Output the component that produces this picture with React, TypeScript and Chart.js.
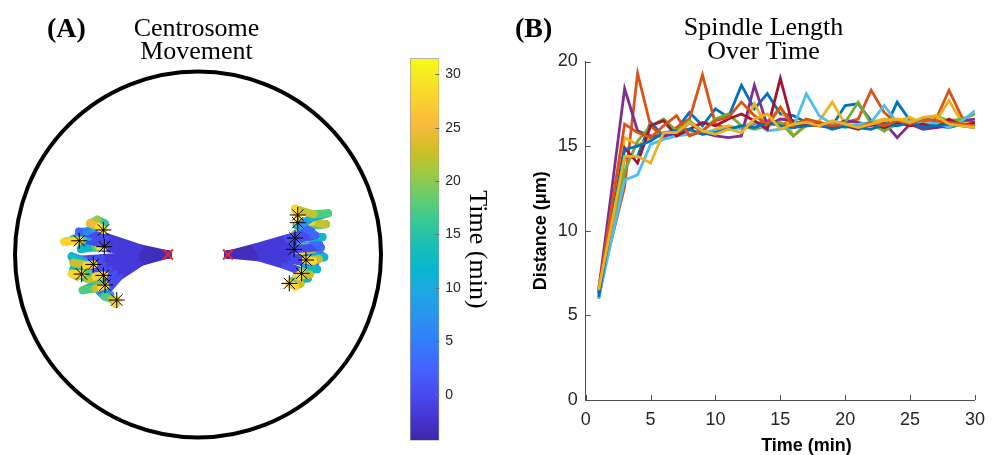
import React, { useEffect, useRef } from "react";
import { Chart, registerables } from "chart.js";
Chart.register(...registerables);

const SERIF = '"Liberation Serif", "Times New Roman", Times, serif';
const SANS = '"Liberation Sans", Arial, Helvetica, sans-serif';

// ---------------- Panel B data: spindle length over time ----------------
const timeMin = [1, 2, 3, 4, 5, 6, 7, 8, 9, 10, 11, 12, 13, 14, 15, 16, 17, 18, 19, 20, 21, 22, 23, 24, 25, 26, 27, 28, 29, 30];
const cell1 = [6.0, 10.2, 14.3, 14.4, 16.4, 15.6, 16.0, 17.0, 16.2, 17.2, 16.7, 18.6, 17.2, 18.1, 16.9, 16.8, 16.4, 16.3, 16.2, 17.4, 17.5, 16.5, 15.9, 17.6, 16.5, 16.3, 16.2, 16.1, 16.3, 16.4];
const cell2 = [6.4, 9.5, 12.6, 19.3, 16.2, 15.5, 16.1, 16.6, 19.2, 16.3, 16.0, 16.2, 16.3, 16.5, 16.3, 16.4, 16.2, 16.3, 16.1, 16.4, 16.6, 18.3, 17.0, 16.3, 16.5, 16.4, 16.6, 18.3, 16.7, 16.3];
const cell3 = [6.6, 11.0, 15.5, 15.1, 15.4, 15.8, 15.6, 15.9, 15.7, 16.0, 16.2, 16.0, 17.5, 16.1, 17.3, 15.6, 16.2, 16.5, 17.6, 16.3, 16.2, 16.4, 16.6, 16.5, 16.7, 16.3, 16.5, 17.7, 16.4, 16.3];
const cell4 = [6.5, 12.4, 18.4, 15.9, 15.6, 15.6, 15.7, 16.4, 15.8, 15.6, 15.5, 15.6, 18.6, 16.2, 16.6, 16.5, 16.2, 16.4, 16.2, 16.5, 16.4, 16.2, 16.4, 15.5, 16.3, 16.0, 16.1, 16.2, 16.5, 16.6];
const cell5 = [6.3, 10.0, 13.5, 15.3, 16.2, 16.6, 15.9, 16.5, 15.9, 16.6, 16.9, 16.2, 16.0, 16.2, 16.4, 15.6, 16.3, 16.2, 16.3, 16.4, 17.6, 16.3, 15.9, 16.3, 16.4, 16.6, 16.8, 16.5, 16.6, 16.9];
const cell6 = [6.0, 9.5, 13.0, 13.3, 15.1, 15.4, 15.6, 15.7, 15.8, 15.9, 16.0, 16.1, 16.4, 15.9, 16.0, 16.1, 18.1, 16.8, 16.3, 16.1, 16.3, 16.4, 17.4, 16.4, 16.5, 16.3, 16.4, 16.1, 16.5, 17.1];
const cell7 = [6.3, 10.6, 14.9, 14.0, 16.2, 16.5, 15.6, 16.0, 16.4, 16.2, 16.6, 16.9, 16.5, 16.0, 19.0, 16.1, 16.3, 16.2, 16.1, 16.2, 16.0, 16.3, 16.1, 16.4, 16.2, 16.3, 16.1, 16.6, 16.2, 16.4];
const cell8 = [6.1, 10.5, 14.8, 15.0, 15.3, 15.8, 15.9, 16.0, 15.7, 15.8, 16.0, 16.2, 16.1, 16.4, 16.2, 16.1, 16.2, 16.3, 16.0, 16.2, 16.1, 16.0, 16.3, 16.2, 16.4, 16.1, 16.2, 16.3, 16.2, 16.1];
const cell9 = [6.5, 11.4, 16.3, 15.8, 15.5, 16.2, 16.8, 15.6, 15.9, 16.5, 16.7, 17.6, 16.8, 16.3, 17.3, 16.2, 16.6, 16.4, 16.2, 16.3, 16.1, 16.4, 16.2, 16.5, 16.3, 16.6, 16.5, 16.4, 16.3, 16.2];
const cell10 = [6.5, 10.4, 14.4, 14.4, 14.0, 15.8, 15.8, 16.4, 15.9, 15.7, 16.0, 15.8, 16.6, 16.9, 16.0, 16.3, 16.4, 16.2, 16.5, 16.3, 16.1, 16.3, 16.5, 16.6, 16.4, 16.7, 16.8, 16.3, 16.2, 16.1];
const spindleSeries = [cell1, cell2, cell3, cell4, cell5, cell6, cell7, cell8, cell9, cell10];
const seriesColors = ["#0072BD", "#D95319", "#EDB120", "#7E2F8E", "#77AC30", "#4DBEEE", "#A2142F", "#0072BD", "#D95319", "#EDB120"];
const timeTicks = [0, 5, 10, 15, 20, 25, 30];
const distanceTicks = [0, 5, 10, 15, 20];

// ---------------- Panel A data: centrosome tracks [time, x, y] ----------------
const cellRadius = 10;
const poleStarts = [[-1.64, 0], [1.64, 0]];
const leftTracks = [
  [[-4, -1.64, 0], [-2.5, -3.2, 0.35], [-1, -5.0, 0.95], [1, -6.5, 1.25], [4, -6.1, 1.25], [8, -5.7, 1.45], [13, -5.1, 1.7], [18, -5.5, 1.9], [23, -5.9, 1.7], [27, -5.4, 1.5], [31, -5.17, 1.34]],
  [[-4, -1.64, 0], [-2.5, -3.3, 0.25], [-1, -5.2, 0.6], [1, -6.6, 0.9], [5, -6.0, 0.95], [10, -6.8, 0.85], [15, -6.3, 0.8], [20, -7.0, 0.75], [25, -7.3, 0.7], [31, -6.49, 0.75]],
  [[-4, -1.64, 0], [-2.5, -3.3, 0.15], [-1, -5.1, 0.35], [1, -6.3, 0.45], [5, -5.7, 0.5], [10, -6.4, 0.3], [15, -5.6, 0.4], [20, -5.0, 0.55], [25, -5.4, 0.45], [31, -5.12, 0.43]],
  [[-4, -1.64, 0], [-2.5, -3.4, -0.05], [-1, -5.3, -0.2], [1, -6.8, -0.3], [5, -6.2, -0.35], [10, -6.9, -0.1], [15, -6.3, -0.5], [20, -6.8, -0.45], [25, -6.1, -0.6], [31, -5.72, -0.54]],
  [[-4, -1.64, 0], [-2.5, -3.4, -0.15], [-1, -5.2, -0.5], [1, -6.7, -0.85], [5, -6.1, -0.9], [10, -6.8, -0.8], [15, -6.0, -1.0], [20, -6.6, -1.2], [25, -6.9, -1.05], [31, -6.36, -1.07]],
  [[-4, -1.64, 0], [-2.5, -3.3, -0.25], [-1, -4.9, -0.75], [1, -6.0, -1.2], [5, -5.5, -1.3], [10, -6.2, -1.25], [15, -5.3, -1.4], [20, -6.0, -1.35], [25, -5.6, -1.2], [31, -5.17, -1.14]],
  [[-4, -1.64, 0], [-2.5, -3.2, -0.35], [-1, -4.6, -1.0], [1, -5.4, -1.9], [5, -5.0, -1.8], [10, -5.8, -1.75], [15, -6.3, -1.95], [20, -5.6, -1.85], [25, -5.3, -1.75], [31, -5.08, -1.67]],
  [[-4, -1.64, 0], [-2.5, -3.1, -0.4], [-1, -4.3, -1.2], [1, -5.0, -2.0], [5, -4.8, -2.2], [10, -5.4, -2.0], [15, -5.1, -2.3], [20, -4.7, -2.45], [25, -4.5, -2.7], [31, -4.44, -2.49]],
];
const rightTracks = [
  [[-4, 1.64, 0], [-2.5, 3.2, 0.4], [-1, 4.9, 0.9], [1, 6.2, 1.25], [5, 5.6, 1.6], [10, 6.2, 2.0], [15, 7.1, 2.25], [20, 6.3, 2.2], [25, 5.3, 2.5], [31, 5.45, 2.16]],
  [[-4, 1.64, 0], [-2.5, 3.3, 0.3], [-1, 5.0, 0.75], [1, 6.4, 1.05], [5, 5.8, 1.3], [10, 5.4, 1.6], [15, 6.2, 1.55], [20, 7.0, 1.65], [25, 6.2, 1.8], [31, 5.45, 1.74]],
  [[-4, 1.64, 0], [-2.5, 3.4, 0.1], [-1, 5.3, 0.3], [1, 6.7, 0.4], [5, 6.1, 0.9], [10, 6.8, 0.95], [15, 5.8, 1.0], [20, 5.3, 1.1], [25, 5.9, 0.9], [31, 5.3, 0.9]],
  [[-4, 1.64, 0], [-2.5, 3.4, 0.2], [-1, 5.2, 0.45], [1, 6.6, 0.6], [5, 6.0, 0.5], [10, 6.7, 0.35], [15, 5.6, 0.45], [20, 6.3, 0.3], [25, 5.7, 0.2], [31, 5.25, 0.28]],
  [[-4, 1.64, 0], [-2.5, 3.4, 0.0], [-1, 5.2, -0.1], [1, 6.8, -0.1], [5, 6.2, -0.05], [10, 6.9, -0.15], [15, 6.0, -0.3], [20, 6.6, -0.25], [25, 6.3, -0.35], [31, 5.9, -0.3]],
  [[-4, 1.64, 0], [-2.5, 3.4, -0.05], [-1, 5.1, -0.3], [1, 6.4, -0.5], [5, 5.9, -0.6], [10, 6.5, -0.8], [15, 5.7, -0.9], [20, 6.1, -1.1], [25, 5.4, -1.2], [31, 5.66, -1.03]],
  [[-4, 1.64, 0], [-2.5, 3.3, -0.15], [-1, 4.8, -0.6], [1, 5.8, -1.0], [5, 5.4, -1.2], [10, 6.0, -1.3], [15, 5.2, -1.45], [20, 5.6, -1.6], [25, 5.3, -1.75], [31, 4.99, -1.58]],
];
const colorbarMin = -4.3;
const colorbarMax = 31.5;
const colorbarTicks = [0, 5, 10, 15, 20, 25, 30];

// parula colormap samples (style, not data)
const parula = [
  [0.2422, 0.1504, 0.6603], [0.2706, 0.2147, 0.8364], [0.2813, 0.3006, 0.9414], [0.2699, 0.3892, 0.9906],
  [0.1963, 0.4847, 0.9892], [0.1687, 0.5703, 0.9359], [0.1248, 0.6459, 0.8883], [0.0297, 0.7082, 0.8163],
  [0.0964, 0.75, 0.712], [0.2161, 0.7843, 0.5923], [0.3909, 0.8029, 0.4354], [0.6174, 0.7876, 0.2612],
  [0.8203, 0.7498, 0.1535], [0.9728, 0.7298, 0.2394], [0.9892, 0.8136, 0.1885], [0.9597, 0.9135, 0.1423],
  [0.9769, 0.9839, 0.0805],
];
const parulaPos = parula.map((_, k) => (k === parula.length - 1 ? 1 : (k * 4) / 63));
const rgb = (c: number[]) => `rgb(${Math.round(c[0] * 255)},${Math.round(c[1] * 255)},${Math.round(c[2] * 255)})`;
function timeColor(t: number): string {
  const f = Math.min(1, Math.max(0, (t - colorbarMin) / (colorbarMax - colorbarMin)));
  for (let k = 1; k < parula.length; k++) {
    if (f <= parulaPos[k]) {
      const a = (f - parulaPos[k - 1]) / (parulaPos[k] - parulaPos[k - 1]);
      const c0 = parula[k - 1], c1 = parula[k];
      return rgb([0, 1, 2].map((i) => c0[i] + (c1[i] - c0[i]) * a));
    }
  }
  return rgb(parula[parula.length - 1]);
}

type TextItem = { text: string; x: number; y: number; font: string; align: CanvasTextAlign; color?: string };
function textPlugin(id: string, items: TextItem[]) {
  return {
    id,
    afterDraw(chart: any) {
      const ctx = chart.ctx;
      ctx.save();
      for (const it of items) {
        ctx.font = it.font;
        ctx.fillStyle = it.color || "#000";
        ctx.textAlign = it.align;
        ctx.textBaseline = "alphabetic";
        ctx.fillText(it.text, it.x, it.y);
      }
      ctx.restore();
    },
  };
}

const cellOutline = {
  id: "cellOutline",
  beforeDatasetsDraw(chart: any) {
    const { ctx, scales } = chart;
    const cx = scales.x.getPixelForValue(0);
    const cy = scales.y.getPixelForValue(0);
    const rx = Math.abs(scales.x.getPixelForValue(cellRadius) - cx);
    const ry = Math.abs(scales.y.getPixelForValue(cellRadius) - cy);
    ctx.save();
    ctx.lineWidth = 4;
    ctx.strokeStyle = "#000";
    ctx.beginPath();
    ctx.ellipse(cx, cy, rx, ry, 0, 0, Math.PI * 2);
    ctx.stroke();
    ctx.restore();
  },
};

function trackDataset(track: number[][], i: number) {
  const pts = track.map(([t, x, y]) => ({ x, y, t }));
  return {
    data: pts,
    showLine: true,
    borderWidth: 8,
    pointRadius: 0,
    borderCapStyle: "round",
    borderJoinStyle: "round",
    borderColor: timeColor(pts[0].t),
    segment: {
      borderColor: (c: any) => timeColor((pts[c.p0DataIndex].t + pts[c.p1DataIndex].t) / 2),
    },
    order: 2 + i,
  };
}

export default function App() {
  const aRef = useRef<HTMLCanvasElement>(null);
  const cbRef = useRef<HTMLCanvasElement>(null);
  const bRef = useRef<HTMLCanvasElement>(null);

  useEffect(() => {
    const charts: Chart[] = [];
    const allTracks = [...leftTracks, ...rightTracks];
    const trackEnds = allTracks.map((tr) => ({ x: tr[tr.length - 1][1], y: tr[tr.length - 1][2] }));

    // Panel A
    charts.push(
      new Chart(aRef.current as HTMLCanvasElement, {
        type: "scatter",
        data: {
          datasets: [
            {
              data: poleStarts.map(([x, y]) => ({ x, y })),
              pointStyle: "crossRot",
              pointRadius: 7,
              borderColor: "#e8262a",
              backgroundColor: "#e8262a",
              borderWidth: 2,
              order: 0,
            } as any,
            {
              data: trackEnds,
              pointStyle: "star",
              pointRadius: 8,
              borderColor: "#000",
              backgroundColor: "#000",
              borderWidth: 1,
              order: 1,
            } as any,
            ...allTracks.map((tr, i) => trackDataset(tr, i) as any),
          ],
        },
        options: {
          animation: false,
          responsive: false,
          devicePixelRatio: 1,
          events: [],
          layout: { padding: { left: 15, right: 19, top: 71.5, bottom: 17.5 } },
          scales: {
            x: { type: "linear", display: false, min: -cellRadius, max: cellRadius },
            y: { type: "linear", display: false, min: -cellRadius, max: cellRadius },
          },
          plugins: { legend: { display: false }, tooltip: { enabled: false } },
        },
        plugins: [
          cellOutline,
          textPlugin("titlesA", [
            { text: "(A)", x: 47, y: 37, font: `bold 28px ${SERIF}`, align: "left" },
            { text: "Centrosome", x: 196.5, y: 36, font: `26px ${SERIF}`, align: "center" },
            { text: "Movement", x: 196.5, y: 59, font: `26px ${SERIF}`, align: "center" },
          ]),
        ],
      } as any)
    );

    // Colorbar
    charts.push(
      new Chart(cbRef.current as HTMLCanvasElement, {
        type: "bar",
        data: {
          labels: [""],
          datasets: [
            {
              data: [[colorbarMin, colorbarMax]],
              barPercentage: 1,
              categoryPercentage: 1,
              borderWidth: 1,
              borderColor: "#9a9a9a",
              borderSkipped: false,
              backgroundColor: (c: any) => {
                const ch = c.chart;
                const ys = ch.scales && ch.scales.y;
                if (!ch.chartArea || !ys) return "#888";
                const g = ch.ctx.createLinearGradient(0, ys.getPixelForValue(colorbarMin), 0, ys.getPixelForValue(colorbarMax));
                parula.forEach((col, k) => g.addColorStop(parulaPos[k], rgb(col)));
                return g;
              },
            } as any,
          ],
        },
        options: {
          animation: false,
          responsive: false,
          devicePixelRatio: 1,
          events: [],
          layout: { padding: { left: 10, right: 0, top: 58.3, bottom: 5.7 } },
          plugins: { legend: { display: false }, tooltip: { enabled: false } },
          scales: {
            x: { display: false },
            y: {
              position: "right",
              min: colorbarMin,
              max: colorbarMax,
              afterBuildTicks: (s: any) => {
                s.ticks = colorbarTicks.map((v) => ({ value: v }));
              },
              afterFit: (s: any) => {
                s.width = 60.7;
              },
              grid: { display: false, drawTicks: false },
              border: { display: false },
              ticks: { padding: 6, font: { family: SANS, size: 14 }, color: "#262626" },
              title: {
                display: true,
                text: "Time (min)",
                color: "#000",
                font: { family: SERIF, size: 26, lineHeight: 1 },
                padding: { top: 10.3, bottom: 0 },
              },
            },
          },
        },
        plugins: [
          {
            id: "cbTicks",
            afterDraw(chart: any) {
              const { ctx, chartArea, scales } = chart;
              ctx.save();
              ctx.strokeStyle = "#6b6b6b";
              ctx.lineWidth = 1;
              ctx.beginPath();
              for (const t of scales.y.ticks) {
                const py = Math.round(scales.y.getPixelForValue(t.value)) + 0.5;
                ctx.moveTo(chartArea.right, py);
                ctx.lineTo(chartArea.right - 4, py);
              }
              ctx.stroke();
              ctx.restore();
            },
          },
        ],
      } as any)
    );

    // Panel B
    charts.push(
      new Chart(bRef.current as HTMLCanvasElement, {
        type: "line",
        data: {
          datasets: spindleSeries.map((s, i) => ({
            data: timeMin.map((t, j) => ({ x: t, y: s[j] })),
            borderColor: seriesColors[i],
            backgroundColor: seriesColors[i],
            borderWidth: 2.8,
            pointRadius: 0,
            fill: false,
            tension: 0,
            order: spindleSeries.length - i,
          })),
        },
        options: {
          animation: false,
          responsive: false,
          devicePixelRatio: 1,
          events: [],
          layout: { padding: { left: 0, right: 10.7, top: 61.5, bottom: 0 } },
          plugins: { legend: { display: false }, tooltip: { enabled: false } },
          scales: {
            x: {
              type: "linear",
              min: 0,
              max: 30,
              afterBuildTicks: (s: any) => {
                s.ticks = timeTicks.map((v) => ({ value: v }));
              },
              afterFit: (s: any) => {
                s.height = 55;
              },
              grid: { display: false, drawTicks: false },
              border: { display: true, color: "#4d4d4d", width: 1 },
              ticks: { padding: 9, font: { family: SANS, size: 18 }, color: "#262626", maxRotation: 0, autoSkip: false },
            },
            y: {
              type: "linear",
              min: 0,
              max: 20,
              afterBuildTicks: (s: any) => {
                s.ticks = distanceTicks.map((v) => ({ value: v }));
              },
              afterFit: (s: any) => {
                s.width = 85.7;
              },
              grid: { display: false, drawTicks: false },
              border: { display: true, color: "#4d4d4d", width: 1 },
              ticks: { padding: 8, font: { family: SANS, size: 18 }, color: "#262626" },
              title: {
                display: true,
                text: "Distance (μm)",
                color: "#000",
                font: { family: SANS, size: 18, weight: "bold", lineHeight: 1 },
                padding: { top: 32, bottom: 0 },
              },
            },
          },
        },
        plugins: [
          {
            id: "inwardTicks",
            afterDraw(chart: any) {
              const { ctx, chartArea, scales } = chart;
              ctx.save();
              ctx.strokeStyle = "#4d4d4d";
              ctx.lineWidth = 1;
              ctx.beginPath();
              for (const t of scales.x.ticks) {
                const px = Math.round(scales.x.getPixelForValue(t.value)) + 0.5;
                ctx.moveTo(px, chartArea.bottom);
                ctx.lineTo(px, chartArea.bottom - 5);
              }
              for (const t of scales.y.ticks) {
                const py = Math.round(scales.y.getPixelForValue(t.value)) + 0.5;
                ctx.moveTo(chartArea.left, py);
                ctx.lineTo(chartArea.left + 5, py);
              }
              ctx.stroke();
              ctx.restore();
            },
          },
          textPlugin("titlesB", [
            { text: "(B)", x: 15, y: 37, font: `bold 28px ${SERIF}`, align: "left" },
            { text: "Spindle Length", x: 263.5, y: 35, font: `26px ${SERIF}`, align: "center" },
            { text: "Over Time", x: 263.5, y: 59, font: `26px ${SERIF}`, align: "center" },
            { text: "Time (min)", x: 306.5, y: 451, font: `bold 18px ${SANS}`, align: "center" },
          ]),
        ],
      } as any)
    );

    return () => charts.forEach((c) => c.destroy());
  }, []);

  const abs = (left: number, width: number): React.CSSProperties => ({ position: "absolute", left, top: 0, width, height: 455 });
  return (
    <div style={{ position: "fixed", left: 0, top: 0, width: 994, height: 455, background: "#fff", overflow: "hidden" }}>
      <canvas ref={aRef} width={400} height={455} style={abs(0, 400)} />
      <canvas ref={cbRef} width={100} height={455} style={abs(400, 100)} />
      <canvas ref={bRef} width={494} height={455} style={abs(500, 494)} />
    </div>
  );
}
